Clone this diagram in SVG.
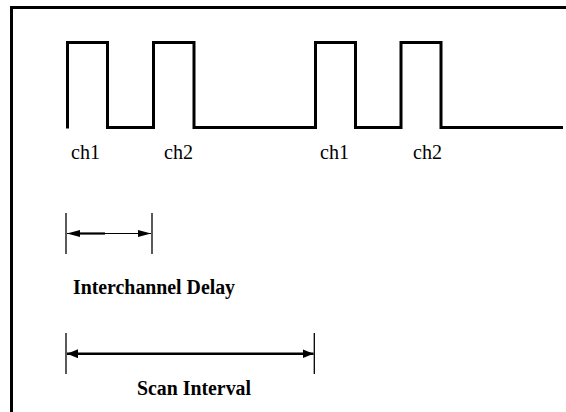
<svg xmlns="http://www.w3.org/2000/svg" width="566" height="412" viewBox="0 0 566 412">
  <style>
    .frame { fill: none; stroke: #000; stroke-width: 3; }
    .wave { fill: none; stroke: #000; stroke-width: 3; stroke-linejoin: miter; stroke-linecap: butt; }
    .tick { stroke: #000; stroke-width: 1.3; }
    .lbl { font-family: "Liberation Serif", "Times New Roman", serif; font-size: 20px; fill: #000; }
    .cap { font-family: "Liberation Serif", "Times New Roman", serif; font-size: 20px; font-weight: bold; fill: #000; }
  </style>
  <defs>
    <marker id="headA" viewBox="0 0 13 7" refX="13" refY="3.5" markerWidth="13" markerHeight="7" markerUnits="userSpaceOnUse" orient="auto-start-reverse">
      <path d="M0,0 L13,3.5 L0,7 z" fill="#000"/>
    </marker>
    <marker id="headB" viewBox="0 0 11 9" refX="11" refY="4.5" markerWidth="11" markerHeight="9" markerUnits="userSpaceOnUse" orient="auto-start-reverse">
      <path d="M0,0 L11,4.5 L0,9 z" fill="#000"/>
    </marker>
  </defs>

  <path class="frame" d="M11.5,412 V7.5 H566"/>

  <g id="waveform">
    <path class="wave" d="M67.5,128.5 V42.5 H107.5 V127.5 H153.5 V42.5 H194 V127.5 H315.5 V42.5 H355.5 V127.5 H401 V42.5 H441 V127.5 H563"/>
  </g>

  <g id="labels">
    <text class="lbl" x="71" y="158.5" textLength="29" lengthAdjust="spacingAndGlyphs">ch1</text>
    <text class="lbl" x="164" y="158.5" textLength="29" lengthAdjust="spacingAndGlyphs">ch2</text>
    <text class="lbl" x="320" y="158.5" textLength="29" lengthAdjust="spacingAndGlyphs">ch1</text>
    <text class="lbl" x="413" y="158.5" textLength="29" lengthAdjust="spacingAndGlyphs">ch2</text>
  </g>

  <g id="connectors">
    <g id="interchannel-arrow">
      <line class="tick" x1="66" y1="213" x2="66" y2="254"/>
      <line class="tick" x1="152" y1="213" x2="152" y2="254"/>
      <line x1="67" y1="233.5" x2="151" y2="233.5" stroke="#000" stroke-width="1.2" marker-start="url(#headA)" marker-end="url(#headA)"/>
      <line x1="78" y1="233.5" x2="105" y2="233.5" stroke="#000" stroke-width="2.2"/>
    </g>
    <g id="scan-arrow">
      <line class="tick" x1="66" y1="333" x2="66" y2="374"/>
      <line class="tick" x1="314.3" y1="333" x2="314.3" y2="374"/>
      <line x1="67" y1="353.7" x2="313.5" y2="353.7" stroke="#000" stroke-width="2.5" marker-start="url(#headB)" marker-end="url(#headB)"/>
    </g>
  </g>

  <g id="interchannel-label">
    <text class="cap" x="73" y="293.5" textLength="162" lengthAdjust="spacingAndGlyphs">Interchannel Delay</text>
  </g>
  <g id="scan-label">
    <text class="cap" x="137" y="395" textLength="114" lengthAdjust="spacingAndGlyphs">Scan Interval</text>
  </g>
</svg>
